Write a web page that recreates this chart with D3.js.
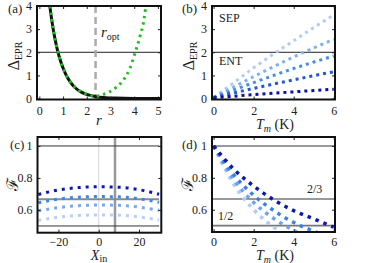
<!DOCTYPE html>
<html><head><meta charset="utf-8">
<script src="https://cdn.jsdelivr.net/npm/d3@7"></script>
<style>
body{margin:0;background:#fff;}
svg{display:block;}
text{font-family:"Liberation Serif","Times New Roman",Times,serif !important;fill:#222;}
text.scr{font-family:"DejaVu Serif",serif !important;}
</style></head>
<body>
<svg id="c" width="374" height="263"></svg>
<script>
// ---------- DATA ----------
// Panel (a)
const rBlack = [0.44,0.5,0.6,0.75,0.9,1.1,1.3,1.5,1.75,2.0,2.4,2.8,3.2,3.6,4.0,4.5,5.1];
const deltaBlack = [4.0,3.55,2.9,2.15,1.6,1.08,0.72,0.48,0.29,0.18,0.08,0.04,0.02,0.01,0.005,0.002,0.001];
const rGreen = [0.44,0.5,0.6,0.75,0.9,1.1,1.3,1.5,1.75,2.0,2.37,2.73,3.19,3.54,3.82,4.03,4.24,4.41,4.48];
const deltaGreen = [4.0,3.55,2.9,2.15,1.6,1.08,0.72,0.48,0.3,0.19,0.1,0.19,0.44,0.8,1.31,1.96,2.67,3.4,3.9];
const rOpt = 2.37;
// Panel (b)
const tmB = [0,1,2,3,4,5,6];
const deltaB = [
  [0.05,0.68,1.33,1.93,2.50,3.07,3.61],
  [0.05,0.50,0.95,1.38,1.80,2.19,2.56],
  [0.05,0.37,0.69,1.00,1.30,1.58,1.84],
  [0.04,0.24,0.44,0.63,0.81,0.99,1.16],
  [0.03,0.10,0.17,0.23,0.29,0.35,0.40]
];
const colorsB = ["#b3cbf3","#7fb0ef","#4a8ce6","#2456d6","#0c12a8"];
// Panel (c)
const xIn = [-30,-20,-10,0,10,20,30];
const fidC = [
  [0.697,0.725,0.740,0.745,0.742,0.727,0.698],
  [0.645,0.668,0.680,0.684,0.682,0.670,0.648],
  [0.595,0.615,0.627,0.631,0.629,0.618,0.598],
  [0.535,0.555,0.566,0.569,0.567,0.557,0.537]
];
const colorsC = ["#0c18b0","#3c88e4","#7aa8ee","#b8cff5"];
const xOpt = 8.1;
// Panel (d)
const tmD = [0,1,2,3,4,5,6];
const fidD = [
  [1.0,0.855,0.748,0.662,0.594,0.542,0.49],
  [1.0,0.82,0.69,0.595,0.52,0.465,0.42],
  [1.0,0.79,0.645,0.545,0.47,0.41,0.37],
  [1.0,0.76,0.60,0.49,0.41,0.35,0.31]
];
const colorsD = ["#0c18b0","#3c80e2","#6fa2ee","#b0cbf5"];
// ticks
const ticksAx = [0,1,2,3,4,5], ticksAy = [0,1,2,3,4];
const ticksTm = [0,2,4,6];
const ticksXin = [-20,0,20];
const ticksF = [0.6,0.8,1];

// ---------- DRAW ----------
const svg = d3.select("#c");
let clipId = 0;
function panel(o){
  const x = d3.scaleLinear().domain(o.xd).range([o.x0,o.x1]);
  const y = d3.scaleLinear().domain(o.yd).range([o.y1,o.y0]);
  const g = svg.append("g");
  const id = "clip"+(clipId++);
  svg.append("clipPath").attr("id",id).append("rect")
    .attr("x",o.x0).attr("y",o.y0).attr("width",o.x1-o.x0).attr("height",o.y1-o.y0);
  const plot = g.append("g").attr("clip-path",`url(#${id})`);
  const axB = d3.axisBottom(x).tickValues(o.xt).tickSize(-3).tickFormat(o.xf||d3.format("")).tickPadding(o.xp);
  const axT = d3.axisTop(x).tickValues(o.xt).tickSize(-3).tickFormat("");
  const axL = d3.axisLeft(y).tickValues(o.yt).tickSize(-3).tickFormat(o.yf||d3.format("")).tickPadding(5);
  const axR = d3.axisRight(y).tickValues(o.yt).tickSize(-3).tickFormat("");
  g.append("g").attr("transform",`translate(0,${o.y1})`).call(axB);
  g.append("g").attr("transform",`translate(0,${o.y0})`).call(axT);
  g.append("g").attr("transform",`translate(${o.x0},0)`).call(axL);
  g.append("g").attr("transform",`translate(${o.x1},0)`).call(axR);
  g.selectAll(".domain").remove();
  g.selectAll(".tick line").attr("stroke","#222").attr("stroke-width",1);
  g.selectAll(".tick text").attr("font-size",12).attr("fill","#222");
  return {x,y,g,plot,o};
}
function frame(p){
  const o=p.o;
  p.g.append("rect").attr("x",o.x0).attr("y",o.y0).attr("width",o.x1-o.x0).attr("height",o.y1-o.y0)
    .attr("fill","none").attr("stroke","#111").attr("stroke-width",2);
}
function hline(p,v,col,w,xa,xb){
  p.plot.append("line").attr("x1",xa!==undefined?p.x(xa):p.o.x0).attr("x2",xb!==undefined?p.x(xb):p.o.x1)
    .attr("y1",p.y(v)).attr("y2",p.y(v)).attr("stroke",col).attr("stroke-width",w);
}
function vline(p,v,col,w,dash){
  p.plot.append("line").attr("x1",p.x(v)).attr("x2",p.x(v)).attr("y1",p.o.y0).attr("y2",p.o.y1)
    .attr("stroke",col).attr("stroke-width",w).attr("stroke-dasharray",dash||null);
}
function curve(p,xs,ys,col,w,dash){
  const line = d3.line().x((d,i)=>p.x(xs[i])).y(d=>p.y(d)).curve(d3.curveMonotoneX);
  p.plot.append("path").attr("d",line(ys)).attr("fill","none").attr("stroke",col)
    .attr("stroke-width",w).attr("stroke-dasharray",dash||null);
}
function ylabelDelta(cx,cy){
  const t = svg.append("text").attr("transform",`translate(${cx},${cy}) rotate(-90)`).attr("text-anchor","middle");
  t.append("tspan").attr("font-size",16).text("Δ");
  t.append("tspan").attr("font-size",10).attr("dy",3).text("EPR");
}
function ylabelF(cx,cy){
  svg.append("text").attr("class","scr").attr("transform",`translate(${cx},${cy}) rotate(-90)`).attr("text-anchor","middle")
    .attr("font-size",16).text("ℱ");
}
function xlabelTm(cx,by){
  const t = svg.append("text").attr("x",cx).attr("y",by).attr("text-anchor","middle").attr("font-size",14);
  t.append("tspan").attr("font-style","italic").text("T");
  t.append("tspan").attr("font-style","italic").attr("font-size",10).attr("dy",2.5).text("m");
  t.append("tspan").attr("dy",-2.5).text(" (K)");
}
function txt(x,y,s,fs,anchor){
  return svg.append("text").attr("x",x).attr("y",y).attr("font-size",fs).attr("text-anchor",anchor||"start").text(s);
}

// Panel (a)
const pa = panel({x0:37,x1:161,y0:6,y1:99.5,xd:[-0.1,5.13],yd:[-0.04,4],xt:ticksAx,yt:ticksAy,xp:7});
hline(pa,2,"#222",1);
vline(pa,rOpt,"#aaaaaa",2.5,"7,4");
curve(pa,rBlack,deltaBlack,"#111",3);
curve(pa,rGreen,deltaGreen,"#1fbf1f",3,"2.5,4");
frame(pa);
txt(8,13,"(a)",13);
ylabelDelta(19,56);
txt(99,125,"r",15,"middle").attr("font-style","italic");
{const t = svg.append("text").attr("x",101).attr("y",37).attr("font-size",15);
 t.append("tspan").attr("font-style","italic").text("r");
 t.append("tspan").attr("font-size",10).attr("dy",3).text("opt");}

// Panel (b)
const pb = panel({x0:212,x1:335,y0:6,y1:99.5,xd:[-0.08,6.06],yd:[-0.04,4],xt:ticksTm,yt:ticksAy,xp:7});
hline(pb,2,"#222",1);
deltaB.forEach((s,i)=>curve(pb,tmB,s,colorsB[i],3,"3,4"));
frame(pb);
txt(182,13,"(b)",13);
ylabelDelta(194,56);
xlabelTm(275,129);
txt(219,22,"SEP",12);
txt(219,65,"ENT",12);

// Panel (c)
const fmtF = d=> d===1?"1":d3.format(".1f")(d);
const pc = panel({x0:37.5,x1:161.3,y0:137,y1:232.7,xd:[-30.4,31.1],yd:[0.458,1.056],xt:ticksXin,yt:ticksF,xp:5,
  xf:d=>d<0?"−"+Math.abs(d):String(d), yf:fmtF});
vline(pc,0,"#dddddd",1.2);
vline(pc,xOpt,"#999999",2.5);
hline(pc,1,"#333",1,-30,30);
hline(pc,0.5,"#333",1,-30,30);
hline(pc,2/3,"#8a8a8a",2,-30,30);
fidC.slice().reverse().forEach((s,i)=>curve(pc,xIn,s,colorsC[3-i],3,"3,5"));
frame(pc);
txt(10,149,"(c)",13);
ylabelF(18,184);
{const t = svg.append("text").attr("x",99).attr("y",259.5).attr("text-anchor","middle").attr("font-size",14);
 t.append("tspan").attr("font-style","italic").text("X");
 t.append("tspan").attr("font-size",10).attr("dy",2.5).text("in");}

// Panel (d)
const pd = panel({x0:212,x1:335,y0:137,y1:232,xd:[-0.08,6.06],yd:[0.46,1.056],xt:ticksTm,yt:ticksF,yf:fmtF,xp:5.5});
hline(pd,1,"#777",1.6);
hline(pd,2/3,"#777",1.6);
hline(pd,0.5,"#777",1.6);
fidD.slice().reverse().forEach((s,i)=>curve(pd,tmD,s,colorsD[3-i],3.5,"3.5,5"));
frame(pd);
txt(182,149,"(d)",13);
ylabelF(193,184);
xlabelTm(275,260);
txt(307,193,"2/3",12);
txt(218,220,"1/2",12);
</script>
</body></html>
